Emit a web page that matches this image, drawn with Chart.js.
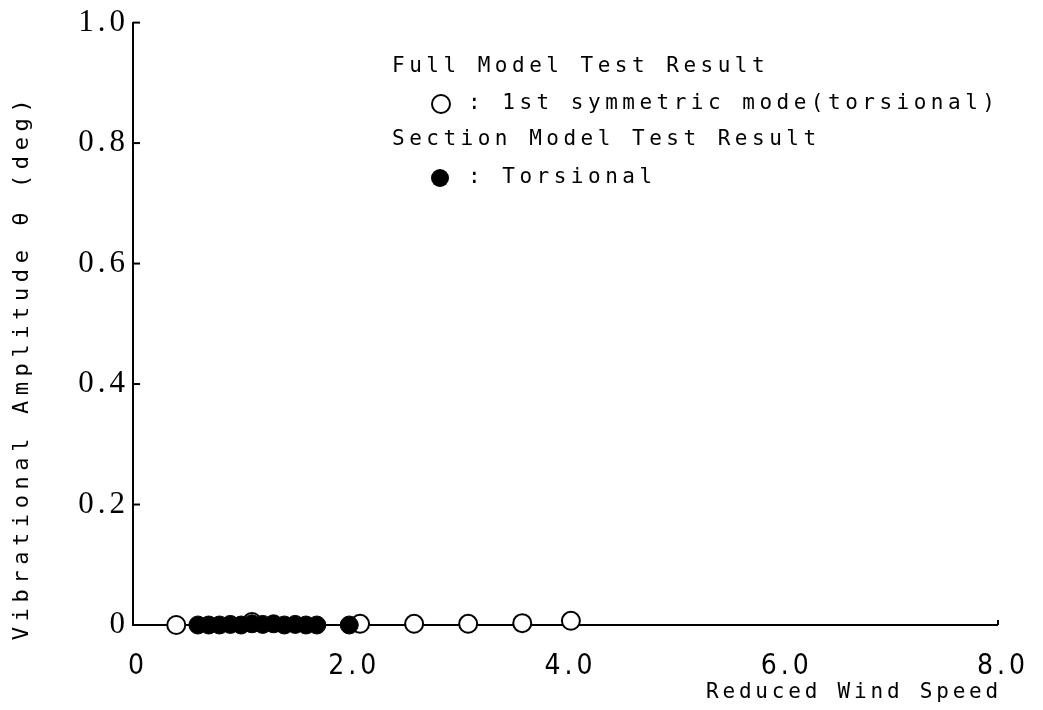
<!DOCTYPE html>
<html><head><meta charset="utf-8">
<script src="https://cdn.jsdelivr.net/npm/chart.js@4"></script>
<style>html,body{margin:0;padding:0;background:#fff}#wrap{width:1043px;height:710px;position:relative}</style>
</head><body><div id="wrap"><canvas id="c" width="1043" height="710"></canvas></div>
<script>
// ---- data ----
const fullModelX = [0.4, 1.1, 2.1, 2.6, 3.1, 3.6, 4.05];
const fullModelY = [0.0, 0.005, 0.002, 0.002, 0.002, 0.003, 0.007];
const sectionX = [0.6, 0.7, 0.8, 0.9, 1.0, 1.1, 1.2, 1.3, 1.4, 1.5, 1.6, 1.7, 2.0];
const sectionY = [0.0, 0.0, 0.0, 0.001, 0.0, 0.002, 0.001, 0.002, 0.0, 0.001, 0.0, 0.0, 0.0];
const xTickValues = [0, 2, 4, 6, 8];
const xTickLabels = ['0', '2.0', '4.0', '6.0', '8.0'];
const yTickValues = [0, 0.2, 0.4, 0.6, 0.8, 1.0];
const yTickLabels = ['0', '0.2', '0.4', '0.6', '0.8', '1.0'];
const xTitle = 'Reduced Wind Speed';
const yTitle = 'Vibrational Amplitude \u03b8 (deg)';
const legendHeader1 = 'Full Model Test Result';
const legendItem1 = ': 1st symmetric mode(torsional)';
const legendHeader2 = 'Section Model Test Result';
const legendItem2 = ': Torsional';

const toPts = (xs, ys) => xs.map((x, i) => ({x: x, y: ys[i]}));
const MONO = "'DejaVu Sans Mono', 'Liberation Mono', monospace";

const deco = {
  id: 'deco',
  beforeDraw(chart) { chart.ctx.letterSpacing = '4px'; },
  afterDraw(chart) {
    const ctx = chart.ctx;
    const xs = chart.scales.x, ys = chart.scales.y;
    ctx.save();
    ctx.letterSpacing = '0px';
    // inward tick marks on the y axis
    ctx.strokeStyle = '#000';
    ctx.lineWidth = 2;
    yTickValues.forEach(v => {
      const y = ys.getPixelForValue(v);
      ctx.beginPath();
      ctx.moveTo(xs.left, y);
      ctx.lineTo(xs.left + 7, y);
      ctx.stroke();
    });
    // small end tick at the right of the x axis
    const xr = xs.getPixelForValue(8);
    ctx.beginPath();
    ctx.moveTo(xr, ys.bottom);
    ctx.lineTo(xr, ys.bottom - 5);
    ctx.stroke();
    ctx.fillStyle = '#000';
    ctx.textBaseline = 'middle';
    // x title
    ctx.font = '21px ' + MONO;
    ctx.letterSpacing = '3.8px';
    ctx.textAlign = 'center';
    ctx.fillText(xTitle, 854, 693);
    // y title
    ctx.save();
    ctx.translate(22, 367);
    ctx.rotate(-Math.PI / 2);
    ctx.font = '22px ' + MONO;
    ctx.letterSpacing = '5.6px';
    ctx.fillText(yTitle, 0, 0);
    ctx.restore();
    // legend block
    ctx.textAlign = 'left';
    ctx.font = '21px ' + MONO;
    ctx.letterSpacing = '4.5px';
    ctx.fillText(legendHeader1, 392, 67);
    ctx.fillText(legendItem1, 468, 104);
    ctx.fillText(legendHeader2, 392, 140);
    ctx.fillText(legendItem2, 468, 178);
    // legend symbols
    ctx.lineWidth = 2;
    ctx.beginPath();
    ctx.arc(441, 104, 9, 0, Math.PI * 2);
    ctx.fillStyle = '#fff';
    ctx.fill();
    ctx.stroke();
    ctx.beginPath();
    ctx.arc(440, 178, 9, 0, Math.PI * 2);
    ctx.fillStyle = '#000';
    ctx.fill();
    ctx.restore();
  }
};

new Chart(document.getElementById('c'), {
  type: 'scatter',
  data: {
    datasets: [
      {
        label: 'Section Model Test Result: Torsional',
        data: toPts(sectionX, sectionY),
        pointRadius: 9, pointHoverRadius: 9,
        pointBackgroundColor: '#000', pointBorderColor: '#000', pointBorderWidth: 1,
        clip: false
      },
      {
        label: 'Full Model Test Result: 1st symmetric mode(torsional)',
        data: toPts(fullModelX, fullModelY),
        pointRadius: 9, pointHoverRadius: 9,
        pointBackgroundColor: '#fff', pointBorderColor: '#000', pointBorderWidth: 2,
        clip: false
      }
    ]
  },
  options: {
    responsive: false,
    animation: false,
    events: [],
    layout: {padding: {left: 0, top: 21, right: 42, bottom: 0}},
    plugins: {legend: {display: false}, tooltip: {enabled: false}},
    scales: {
      x: {
        type: 'linear', min: 0, max: 8,
        afterFit(s) { s.height = 85; },
        afterBuildTicks(s) { s.ticks = xTickValues.map(v => ({value: v})); },
        grid: {display: false, drawTicks: false},
        border: {display: true, color: '#000', width: 2},
        ticks: {
          padding: 25, color: '#000', labelOffset: 5,
          font: {family: "'DejaVu Sans Condensed', 'Liberation Sans Narrow', sans-serif", size: 28},
          callback(v) { const i = xTickValues.indexOf(v); return i >= 0 ? xTickLabels[i] : ''; },
          maxRotation: 0, autoSkip: false
        }
      },
      y: {
        type: 'linear', min: 0, max: 1,
        afterFit(s) { s.width = 133; },
        afterBuildTicks(s) { s.ticks = yTickValues.map(v => ({value: v})); },
        grid: {display: false, drawTicks: false},
        border: {display: true, color: '#000', width: 2},
        ticks: {
          padding: 4, color: '#000',
          font: {family: "'Liberation Serif', 'DejaVu Serif', serif", size: 31},
          callback(v) { const i = yTickValues.findIndex(t => Math.abs(t - v) < 1e-9); return i >= 0 ? yTickLabels[i] : ''; },
          autoSkip: false
        }
      }
    }
  },
  plugins: [deco]
});
</script>
</body></html>
